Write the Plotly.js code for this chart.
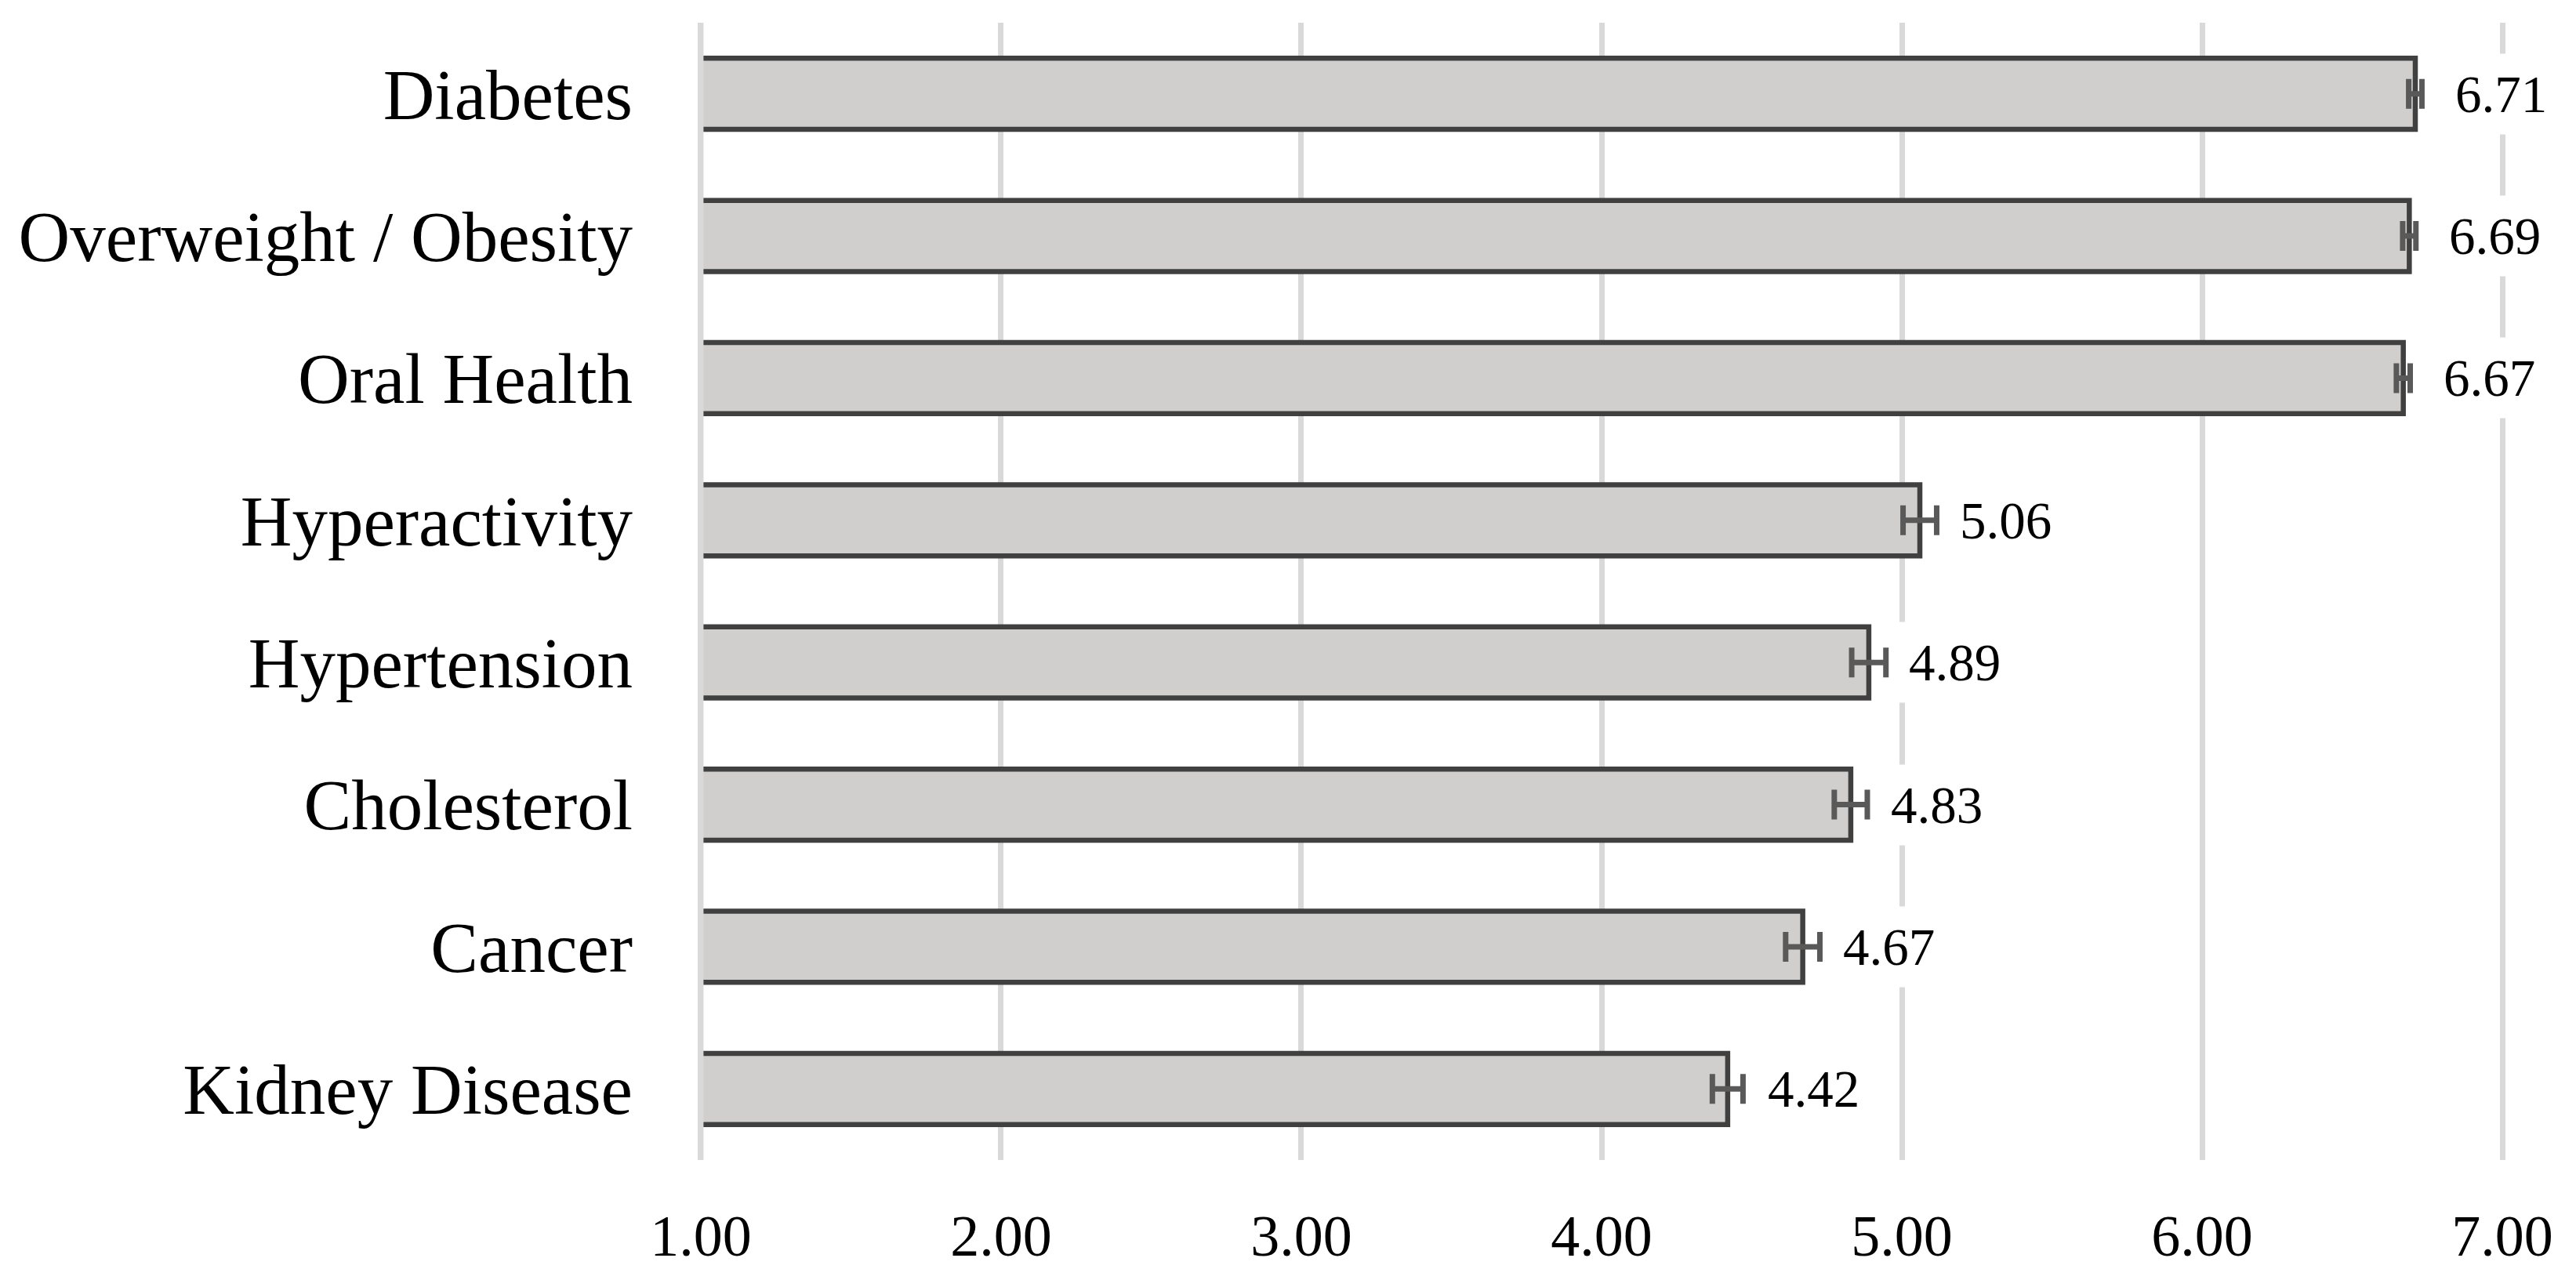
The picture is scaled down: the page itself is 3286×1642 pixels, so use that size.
<!DOCTYPE html>
<html>
<head>
<meta charset="utf-8">
<script src="https://cdn.plot.ly/plotly-3.0.1.min.js"></script>
<style>
  html, body { margin: 0; padding: 0; background: #ffffff; }
  #chart { width: 3286px; height: 1642px; }
</style>
</head>
<body>
<div id="chart"></div>
<script>
// Data (top to bottom as shown)
const categories = ["Diabetes", "Overweight / Obesity", "Oral Health", "Hyperactivity",
                    "Hypertension", "Cholesterol", "Cancer", "Kidney Disease"];
const meanValues = [6.71, 6.69, 6.67, 5.06, 4.89, 4.83, 4.67, 4.42];
const errorValues = [0.022, 0.022, 0.023, 0.056, 0.057, 0.055, 0.057, 0.051];
const valueLabels = ["6.71", "6.69", "6.67", "5.06", "4.89", "4.83", "4.67", "4.42"];
const tickValues = [1, 2, 3, 4, 5, 6, 7];
const tickLabels = ["1.00", "2.00", "3.00", "4.00", "5.00", "6.00", "7.00"];

const serif = "Liberation Serif, Times New Roman, serif";

const trace = {
  type: "bar",
  orientation: "h",
  x: meanValues,
  y: categories,
  marker: {
    color: "#d0cfcd",
    line: { color: "#404040", width: 6.5 }
  },
  error_x: {
    type: "data",
    array: errorValues,
    visible: true,
    color: "#595959",
    thickness: 7,
    width: 19
  },
  hoverinfo: "skip"
};

const annotations = categories.map((c, i) => ({
  x: meanValues[i],
  y: c,
  xref: "x",
  yref: "y",
  text: valueLabels[i],
  showarrow: false,
  xanchor: "left",
  yanchor: "middle",
  xshift: 36,
  bgcolor: "#ffffff",
  borderpad: 14,
  font: { family: serif, size: 67, color: "#000000" }
}));

// gridline at the axis minimum, drawn over the bar starts
const shapes = [{
  type: "line",
  xref: "x",
  yref: "paper",
  x0: tickValues[0],
  x1: tickValues[0],
  y0: 0,
  y1: 1,
  layer: "above",
  line: { color: "#d9d9d9", width: 7 }
}];

const layout = {
  width: 3286,
  height: 1642,
  margin: { l: 891.6, r: 92.4, t: 29, b: 162 },
  paper_bgcolor: "#ffffff",
  plot_bgcolor: "#ffffff",
  showlegend: false,
  bargap: 0.5,
  xaxis: {
    range: [0.995, 7.005],
    tickvals: tickValues,
    ticktext: tickLabels,
    showgrid: true,
    gridcolor: "#d9d9d9",
    gridwidth: 7,
    zeroline: false,
    showline: false,
    ticks: "",
    ticklabelstandoff: 47,
    tickfont: { family: serif, size: 74, color: "#000000" },
    fixedrange: true
  },
  yaxis: {
    type: "category",
    autorange: "reversed",
    showgrid: false,
    zeroline: false,
    showline: false,
    ticks: "",
    ticklabelstandoff: 84,
    tickfont: { family: serif, size: 91, color: "#000000" },
    fixedrange: true
  },
  shapes: shapes,
  annotations: annotations
};

Plotly.newPlot("chart", [trace], layout, { staticPlot: true, displayModeBar: false });
</script>
</body>
</html>
